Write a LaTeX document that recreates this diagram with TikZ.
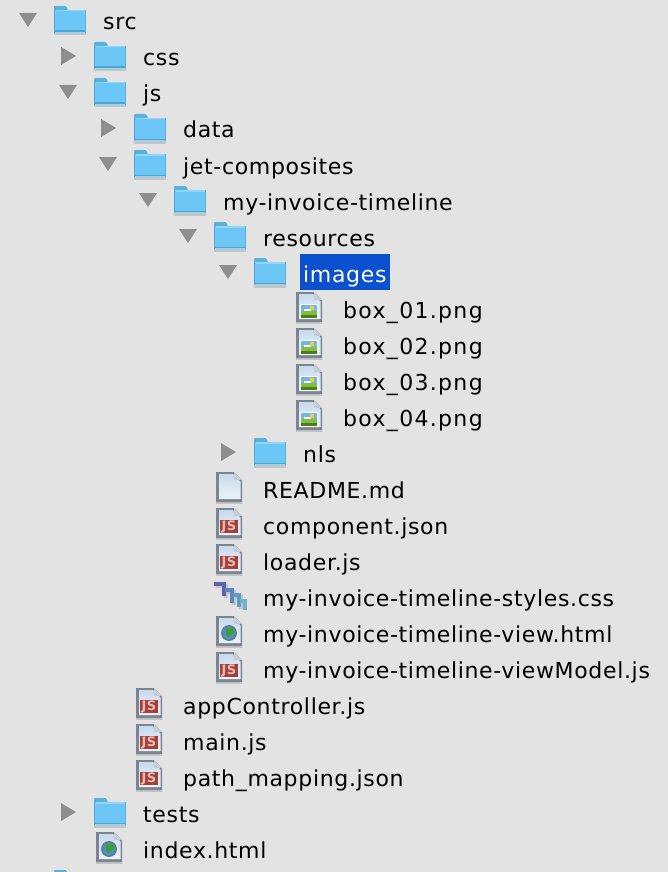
\documentclass[tikz,border=0pt]{standalone}
\usepackage{fontspec}
\usepackage{xcolor}
\setmainfont{DejaVu Sans}[LetterSpace=3]
\definecolor{panel}{HTML}{E3E3E3}
\definecolor{drop}{HTML}{C4C4C4}
\definecolor{folderblue}{HTML}{6CC6F6}
\definecolor{folderlight}{HTML}{8FD8F5}
\definecolor{folderdark}{HTML}{4EA6D6}
\definecolor{selected}{HTML}{0B50CE}
\definecolor{pageedge}{HTML}{7A8793}
\definecolor{pagetop}{HTML}{C8DAED}
\definecolor{pagelow}{HTML}{EEF3F9}
\definecolor{foldgray}{HTML}{C6CDD3}
\definecolor{twisty}{HTML}{8E8E8E}
\definecolor{jsred}{HTML}{A63F37}
\definecolor{jstext}{HTML}{E6BDB6}
\definecolor{sky}{HTML}{6CB8EC}
\definecolor{grass}{HTML}{86BE3C}
\definecolor{grassdark}{HTML}{4C7E1C}
\definecolor{sun}{HTML}{F2CE3C}
\definecolor{globerim}{HTML}{5F7F98}
\definecolor{globeblue}{HTML}{4E93C8}
\definecolor{globegreen}{HTML}{3F9E3A}
\definecolor{stairA}{HTML}{5B63AE}
\definecolor{stairB}{HTML}{5F86BE}
\definecolor{stairC}{HTML}{5F9CC8}
\definecolor{stairD}{HTML}{6FB0D0}
\tikzset{
  x=1pt,y=-1pt,
  lbl/.style={anchor=base west,inner sep=0pt,font=\fontsize{22}{26}\selectfont,text=black},
  sel/.style={lbl,text=white},
  wide/.style={lbl,font=\fontsize{22}{26}\selectfont\addfontfeature{LetterSpace=6}},
  stair/.style={line width=3.6pt},
  pics/opened/.style={code={\fill[twisty] (-9,-9)--(9,-9)--(0,5)--cycle;}},
  pics/closed/.style={code={\fill[twisty] (-7,-11)--(8,-2)--(-7,7)--cycle;}},
  pics/folder/.style={code={
    \fill[drop] (-16,11) rectangle (16,13.5);
    \fill[folderdark!80!folderlight,rounded corners=1pt] (-16,-9)--(-16,-16)--(-4,-16)--(-2,-12)--(-2,-9)--cycle;
    \fill[folderblue] (-16,-12) rectangle (16,11);
    \fill[folderlight] (-14,-12) rectangle (16,-10.5);
    \fill[folderdark] (-16,8.5) rectangle (16,10);
    \fill[folderlight] (-16,10) rectangle (16,11);
    \fill[folderdark] (-16,-12) rectangle (-15,11);
    \fill[folderdark!70!folderblue] (15,-12) rectangle (16,11);
  }},
  pics/page/.style={code={
    \fill[drop] (-13,12) rectangle (13,14);
    \fill[pageedge] (-13,-18)--(5,-18)--(13,-10)--(13,12)--(-13,12)--cycle;
    \shade[top color=pagetop,bottom color=pagelow] (-10,-16)--(4,-16)--(11.5,-8.5)--(11.5,9)--(-10,9)--cycle;
    \fill[foldgray] (5,-18)--(13,-10)--(5,-10)--cycle;
  }},
  pics/jsfile/.style={code={
    \pic {page};
    \fill[jsred] (-9,-6) rectangle (9,7);
    \node[inner sep=0pt,text=jstext,font=\fontsize{13}{13}\bfseries\selectfont] (-badge) at (0,0.5) {JS};
  }},
  pics/imgfile/.style={code={
    \pic {page};
    \fill[white] (-9,-6) rectangle (9,9);
    \fill[sky] (-8,-5) rectangle (8,1);
    \fill[white] (-5,-1) rectangle (2,1);
    \fill[sun] (1,-4) rectangle (5,0);
    \fill[grass] (-8,1) rectangle (8,5);
    \fill[grassdark] (-8,5) rectangle (8,8);
  }},
  pics/webfile/.style={code={
    \pic {page};
    \fill[globerim] (0,-1) circle (8);
    \fill[globeblue] (0,-1) circle (6);
    \fill[globegreen] (-3,-6)--(5,-6)--(6,-1)--(1,1)--(0,4)--(-3,1)--cycle;
  }},
  pics/stylefile/.style={code={
    \draw[drop,stair] (-13,-12)--(-3,-12)--(-3,0);
    \draw[drop,stair] (-2,-6)--(5,-6)--(5,7);
    \draw[drop,stair] (6,-1)--(12,-1)--(12,11);
    \draw[stairA,stair] (-15,-14)--(-5,-14)--(-5,-2);
    \draw[stairB,stair] (-4,-8)--(3,-8)--(3,5);
    \draw[stairC,stair] (4,-3)--(10,-3)--(10,9);
    \draw[stairD,stair] (11,3)--(16,3)--(16,12);
  }},
}
\begin{document}
\begin{tikzpicture}
\fill[panel] (0,0) rectangle (668,872);
\clip (0,0) rectangle (668,872);
% selection
\fill[selected] (300,254) rectangle (390,290);
% top levels
\pic (srcT) at (28,22) {opened};
\pic (srcF) at (70,22) {folder};
\node[lbl] (src) at (103,30) {src};
\pic (cssT) at (68,58) {closed};
\pic (cssF) at (110,58) {folder};
\node[lbl] (css) at (143,66) {css};
\pic (jsT) at (68,94) {opened};
\pic (jsF) at (110,94) {folder};
\node[lbl] (js) at (143,102) {js};
\pic (dataT) at (108,130) {closed};
\pic (dataF) at (150,130) {folder};
\node[lbl] (data) at (183,138) {data};
\pic (jetT) at (108,166) {opened};
\pic (jetF) at (150,166) {folder};
\node[lbl] (jet) at (183,174) {jet-composites};
\pic (mitT) at (148,202) {opened};
\pic (mitF) at (190,202) {folder};
\node[lbl] (mit) at (223,210) {my-invoice-timeline};
\pic (resT) at (188,238) {opened};
\pic (resF) at (230,238) {folder};
\node[lbl] (res) at (263,246) {resources};
\pic (imgT) at (228,274) {opened};
\pic (imgF) at (270,274) {folder};
\node[sel] (images) at (303,282) {images};
% image files
\pic (boxAI) at (309,310) {imgfile};
\node[wide] (boxA) at (343,318) {box\_01.png};
\pic (boxBI) at (309,346) {imgfile};
\node[wide] (boxB) at (343,354) {box\_02.png};
\pic (boxCI) at (309,382) {imgfile};
\node[wide] (boxC) at (343,390) {box\_03.png};
\pic (boxDI) at (309,418) {imgfile};
\node[wide] (boxD) at (343,426) {box\_04.png};
\pic (nlsT) at (228,454) {closed};
\pic (nlsF) at (270,454) {folder};
\node[lbl] (nls) at (303,462) {nls};
% component files
\pic (readI) at (229,490) {page};
\node[lbl] (read) at (263,498) {README.md};
\pic (compI) at (229,526) {jsfile};
\node[lbl] (comp) at (263,534) {component.json};
\pic (loadI) at (229,562) {jsfile};
\node[lbl] (load) at (263,570) {loader.js};
\pic (stylI) at (229,598) {stylefile};
\node[lbl] (styl) at (263,606) {my-invoice-timeline-styles.css};
\pic (viewI) at (229,634) {webfile};
\node[lbl] (view) at (263,642) {my-invoice-timeline-view.html};
\pic (vmI) at (229,670) {jsfile};
\node[lbl] (vm) at (263,678) {my-invoice-timeline-viewModel.js};
% js files
\pic (appI) at (149,706) {jsfile};
\node[lbl] (app) at (183,714) {appController.js};
\pic (mainI) at (149,742) {jsfile};
\node[lbl] (main) at (183,750) {main.js};
\pic (pathI) at (149,778) {jsfile};
\node[lbl] (path) at (183,786) {path\_mapping.json};
\pic (testT) at (68,814) {closed};
\pic (testF) at (110,814) {folder};
\node[lbl] (tests) at (143,822) {tests};
\pic (idxI) at (109,850) {webfile};
\node[lbl] (idx) at (143,858) {index.html};
% next folder, cut off by the edge
\pic (nextF) at (70,886) {folder};
\end{tikzpicture}
\end{document}
